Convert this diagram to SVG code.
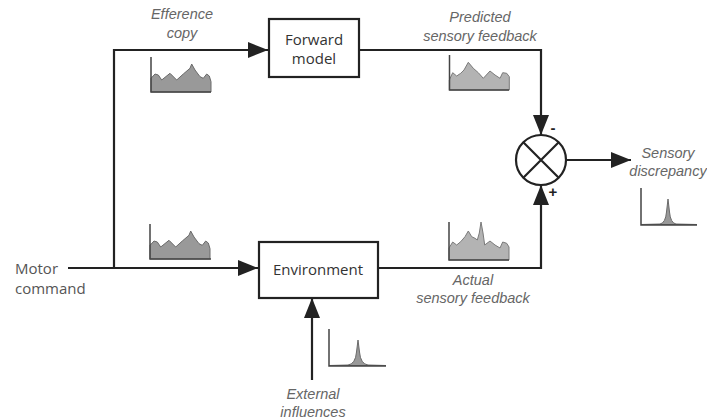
<svg xmlns="http://www.w3.org/2000/svg" width="707" height="420" viewBox="0 0 707 420">
<style>
.box{fill:#fff;stroke:#222;stroke-width:2.2}
.node{font-family:"Open Sans","Noto Sans",sans-serif;font-size:15px;fill:#333;text-anchor:middle}
.lbl{font-family:"Liberation Sans",Arial,sans-serif;font-style:italic;font-size:14.5px;fill:#666;text-anchor:middle}
.conn{fill:none;stroke:#222;stroke-width:2.2}
.axis{fill:none;stroke:#444;stroke-width:1.5}
.dark{fill:#999;stroke:#6a6a6a;stroke-width:1}
.light{fill:#b3b3b3;stroke:#7a7a7a;stroke-width:1}
.sign{font-family:"Liberation Sans",Arial,sans-serif;font-weight:bold;font-size:15px;fill:#222;text-anchor:middle}
</style>
<defs>
<marker id="ah" viewBox="0 0 20 16" refX="20" refY="8" markerWidth="20" markerHeight="16" markerUnits="userSpaceOnUse" orient="auto">
<path d="M0,0 L20,8 L0,16 Z" fill="#222"/>
</marker>
</defs>
<rect width="707" height="420" fill="#fff"/>
<g id="connectors">
<path class="conn" d="M68,268 L258,268" marker-end="url(#ah)"/>
<path class="conn" d="M114,268 L114,50 L268,50" marker-end="url(#ah)"/>
<path class="conn" d="M359,50 L541,50 L541,135" marker-end="url(#ah)"/>
<path class="conn" d="M378,268 L541,268 L541,185" marker-end="url(#ah)"/>
<path class="conn" d="M566,160 L631,160" marker-end="url(#ah)"/>
<path class="conn" d="M312,380 L312,298" marker-end="url(#ah)"/>
</g>
<g id="forward-model">
<rect class="box" x="269" y="19" width="90" height="58"/>
<text class="node" x="314" y="45">Forward</text>
<text class="node" x="314" y="64">model</text>
</g>
<g id="environment">
<rect class="box" x="259" y="242" width="119" height="56"/>
<text class="node" x="318" y="275">Environment</text>
</g>
<g id="comparator">
<circle cx="541" cy="160" r="25" fill="#fff" stroke="#222" stroke-width="2.2"/>
<path d="M523.3,142.3 L558.7,177.7 M558.7,142.3 L523.3,177.7" stroke="#222" stroke-width="2.2"/>
<text class="sign" x="553" y="133">-</text>
<text class="sign" x="553" y="197">+</text>
</g>
<g id="motor-command">
<text x="15" y="274" font-family="Open Sans, Noto Sans, sans-serif" font-size="15" fill="#555">Motor</text>
<text x="15" y="294" font-family="Open Sans, Noto Sans, sans-serif" font-size="15" fill="#555">command</text>
</g>
<g id="efference-copy">
<text class="lbl" x="182" y="19">Efference</text>
<text class="lbl" x="182" y="38">copy</text>
<path class="dark" d="M151,92 L151,78.3 L155,74 L158.3,75 L161.7,80 L170,73.3 L176.7,80 L183.3,74 L190,68.3 L191.7,64 L195,70 L200,76.7 L203.3,78.3 L206.7,74 L209.3,76 L211,81.7 L211,92 Z"/>
<path class="axis" d="M151,57 L151,92 L211,92"/>
</g>
<g id="motor-signal">
<path class="dark" d="M150,259 L150,245.3 L154,241 L157.3,242 L160.7,247 L169,240.3 L175.7,247 L182.3,241 L189,235.3 L190.7,231 L194,237 L199,243.7 L202.3,245.3 L205.7,241 L208.3,243 L210,248.7 L210,259 Z"/>
<path class="axis" d="M150,224 L150,259 L211,259"/>
</g>
<g id="predicted-feedback">
<text class="lbl" x="480" y="22">Predicted</text>
<text class="lbl" x="480" y="41">sensory feedback</text>
<path class="light" d="M449.3,90 L449.3,80 L452.7,72.7 L456.7,76 L460.7,73.3 L464,70 L468.3,62.3 L473.3,68.3 L478.3,72.7 L483.3,78.3 L490,71 L495,75 L500,78.3 L502.7,72.7 L506.7,73.3 L509.3,76.7 L509.3,90 Z"/>
<path class="axis" d="M449.5,55 L449.5,90 L509,90"/>
</g>
<g id="actual-feedback">
<text class="lbl" x="473" y="285">Actual</text>
<text class="lbl" x="473" y="303">sensory feedback</text>
<path class="light" d="M449,260 L449,248 L452.7,242 L456.7,245 L460.7,241.7 L465,236.7 L468.3,231 L471.7,236.7 L475,238.3 L477.3,240 L479.3,233 L481,222 L483,233 L484.7,245 L490,241 L495,245 L500,248 L502.7,242 L506.7,243.3 L509,247 L509,260 Z"/>
<path class="axis" d="M449,222 L449,260 L509,260"/>
</g>
<g id="sensory-discrepancy">
<text class="lbl" x="668" y="158">Sensory</text>
<text class="lbl" x="668" y="176">discrepancy</text>
<path class="dark" d="M641,224.5 L660,224 Q665.5,223 666.5,212 L668,199 L669.5,212 Q670.5,223 676,224 L697,224.5 Z"/>
<path class="axis" d="M641,188 L641,225 L697,225"/>
</g>
<g id="external-influences">
<text class="lbl" x="313" y="399">External</text>
<text class="lbl" x="313" y="417">influences</text>
<path class="dark" d="M329,365.5 L348,365 Q355.5,364 356.5,352 L358,340 L359.5,352 Q360.5,364 368,365 L386,365.5 Z"/>
<path class="axis" d="M329,329 L329,366 L386,366"/>
</g>
</svg>
